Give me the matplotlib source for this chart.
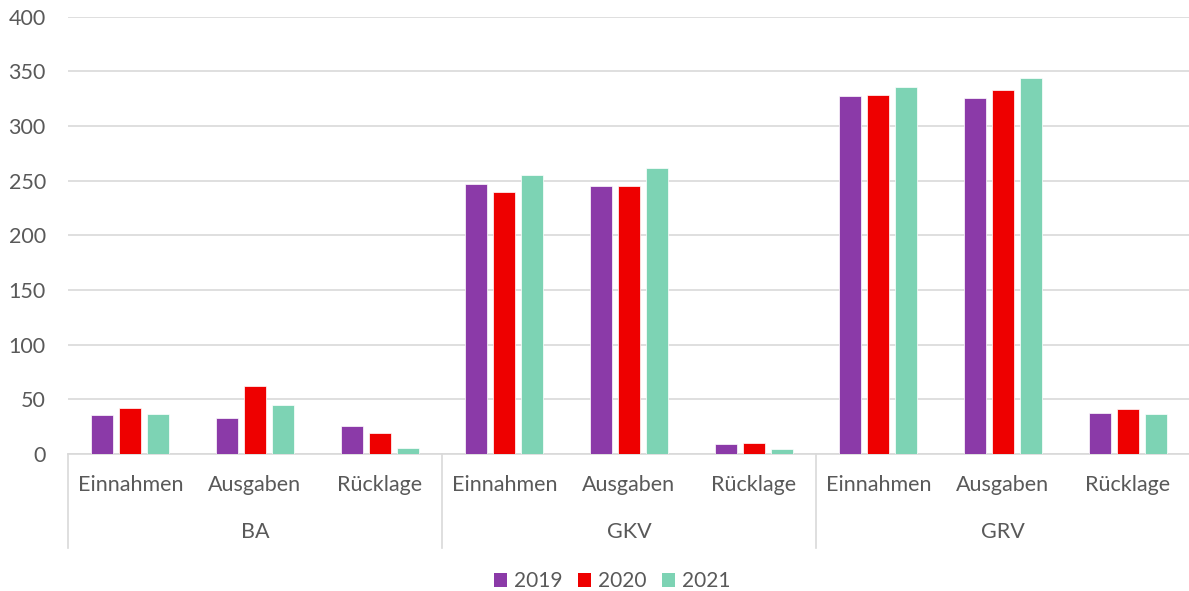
import matplotlib
matplotlib.use("Agg")
from matplotlib import pyplot as plt, transforms
from matplotlib.patches import Patch
import numpy as np

groups = ["BA", "GKV", "GRV"]
items = ["Einnahmen", "Ausgaben", "Rücklage"]
years = ["2019", "2020", "2021"]

v2019 = [35.5, 32.8, 25.2, 246.6, 245.5, 9.6, 327.1, 325.3, 37.9]
v2020 = [41.8, 61.8, 19.3, 239.7, 244.8, 10.0, 328.4, 333.3, 40.7]
v2021 = [36.2, 45.2, 5.5, 255.2, 261.4, 4.8, 335.7, 344.3, 36.2]

colors = ["#8B3AA8", "#EE0000", "#7DD3B4"]
txt = "#595959"

plt.rcParams['font.family'] = ['Lato', 'DejaVu Sans']

fig = plt.figure(figsize=(11.89, 5.91), dpi=100)
ax = fig.add_axes([68 / 1189, 1 - 454 / 591, 1122 / 1189, 437.4 / 591])

x = np.arange(len(v2019))
w = 0.176
step = 0.224
for i, (vals, c) in enumerate(zip([v2019, v2020, v2021], colors)):
    ax.bar(x + (i - 1) * step, vals, width=w, color=c, edgecolor="white",
           linewidth=0.5, zorder=3)

ax.set_xlim(-0.5, 8.5)
ax.set_ylim(0, 400)
ax.set_yticks(range(0, 401, 50))
ax.yaxis.grid(True, color="#d9d9d9", linewidth=1.2, zorder=0)
ax.set_axisbelow(True)
for s in ax.spines.values():
    s.set_visible(False)
ax.tick_params(axis="y", length=0, pad=16, labelsize=15.5, labelcolor=txt)
ax.set_xticks([])

trans = transforms.blended_transform_factory(ax.transData, ax.transAxes)
ax.plot([-0.5, 8.5], [0, 0], color="#d9d9d9", linewidth=1.2, transform=trans,
        clip_on=False, zorder=2)
for sx in [-0.5, 2.5, 5.5]:
    ax.plot([sx, sx], [0, -94 / 437.4], color="#d9d9d9", linewidth=1.2,
            transform=trans, clip_on=False)

labels = items * len(groups)
for xi, lab in zip(x, labels):
    ax.text(xi, -31 / 437.4, lab, transform=trans, ha="center", va="center",
            fontsize=15.5, color=txt)
for gi, g in enumerate(groups):
    ax.text(gi * 3 + 1, -78 / 437.4, g, transform=trans, ha="center",
            va="center", fontsize=15.5, color=txt)

handles = [Patch(facecolor=c, edgecolor="none", label=y) for c, y in zip(colors, years)]
fig.legend(handles=handles, loc="center", bbox_to_anchor=(612 / 1189, 1 - 581 / 591),
           ncol=3, frameon=False, fontsize=15, handlelength=0.65, handleheight=0.65,
           handletextpad=0.3, columnspacing=0.75, labelcolor=txt)

fig.savefig("out.png", dpi=100)
